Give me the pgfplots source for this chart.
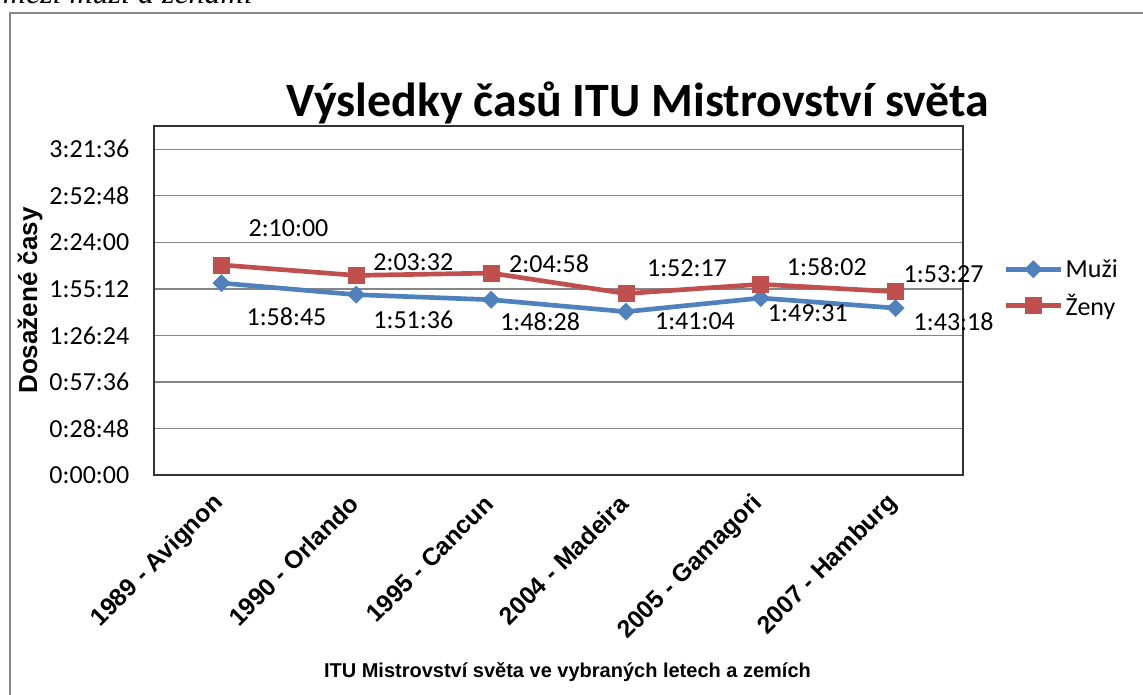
\documentclass[border=0pt]{standalone}
\usepackage{fontspec}
\setmainfont{Carlito}
\newfontfamily\arial{Liberation Sans}
\newfontfamily\timesf{Liberation Serif}
\usepackage{pgfplots}
\usepackage{pgfplotstable}
\pgfplotsset{compat=1.18}
\definecolor{muzi}{HTML}{4F81BD}
\definecolor{zeny}{HTML}{C0504D}
\definecolor{gridc}{HTML}{868686}
\definecolor{framec}{HTML}{8A8A8A}

% x, time in seconds, label shift dx, dy (pt), label text
\pgfplotstableread[col sep=comma]{
x,y,dx,dy,lab
0,7125,48.8,-25.5,1:58:45
1,6696,42.8,-18.8,1:51:36
2,6508,36.8,-16.5,1:48:28
3,6064,51.8,-6.8,1:41:04
4,6571,35.3,-11.3,1:49:31
5,6198,43.5,-10.5,1:43:18
}\muzidata
\pgfplotstableread[col sep=comma]{
x,y,dx,dy,lab
0,7800,50.3,27.8,2:10:00
1,7412,42.8,9.8,2:03:32
2,7498,43.5,6.8,2:04:58
3,6737,45.8,18.8,1:52:17
4,7082,49.5,12.8,1:58:02
5,6807,36.0,12.8,1:53:27
}\zenydata

\begin{document}
\begin{tikzpicture}[x=0.75pt,y=0.75pt]
\path[use as bounding box] (0,0) rectangle (1143,695);
\begin{scope}
\clip (0,0) rectangle (1143,695);
\node[anchor=base east, inner sep=0pt, font=\timesf\itshape\fontsize{24}{28}\selectfont] at (253,691) {mezi muži a ženami};
\draw[framec, line width=1.5pt] (10,-20) -- (10,682) -- (1160,682);
\end{scope}
\begin{axis}[
  at={(115.5pt,165pt)}, anchor=south west,
  scale only axis,
  width=606.75pt, height=261.75pt,
  xmin=-0.5, xmax=5.5,
  ymin=0, ymax=12960,
  scaled y ticks=false,
  xtick={0,1,2,3,4,5},
  xticklabels={1989 - Avignon,1990 - Orlando,1995 - Cancun,2004 - Madeira,2005 - Gamagori,2007 - Hamburg},
  ytick={0,1728,3456,5184,6912,8640,10368,12096},
  yticklabels={\mbox{0:00:00},\mbox{0:28:48},\mbox{0:57:36},\mbox{1:26:24},\mbox{1:55:12},\mbox{2:24:00},\mbox{2:52:48},\mbox{3:21:36}},
  major tick length=0pt,
  ymajorgrids,
  grid style={gridc, line width=1pt},
  axis line style={black!80, line width=1.1pt},
  xticklabel style={font=\arial\bfseries\fontsize{18.5}{21}\selectfont, rotate=45, anchor=east, inner sep=1pt, yshift=-12pt, xshift=-13pt},
  yticklabel style={font=\fontsize{19.5}{22}\selectfont, anchor=east, xshift=-15pt},
  xlabel={ITU Mistrovství světa ve vybraných letech a zemích},
  xlabel style={font=\arial\bfseries\fontsize{15}{18}\selectfont, at={(axis description cs:0.5,0)}, anchor=center, yshift=-148pt, xshift=6.75pt},
  ylabel={Dosažené časy},
  ylabel style={font=\arial\bfseries\fontsize{19.5}{22}\selectfont, at={(axis description cs:0,0.5)}, anchor=center, yshift=93pt},
  legend style={at={(1.05,0.535)}, anchor=west, draw=none, fill=none,
    font=\fontsize{19.5}{22}\selectfont, row sep=7pt, inner sep=0pt},
  legend cell align=left,
  legend image code/.code={\draw[mark repeat=2,mark phase=2,#1] plot coordinates {(0pt,0pt) (20.5pt,0pt) (41pt,0pt)};},
  clip=false,
]
\addplot[muzi, line width=3.5pt, mark=square*, mark size=4.5pt, mark options={rotate=45, line width=0.5pt, fill=muzi}] table[x=x,y=y] {\muzidata};
\addlegendentry{Muži}
\addplot[zeny, line width=3.5pt, mark=square*, mark size=6pt, mark options={line width=0.5pt, fill=zeny}] table[x=x,y=y] {\zenydata};
\addlegendentry{Ženy}
% data labels
\addplot[draw=none, mark=none, forget plot,
  visualization depends on={\thisrow{dx} \as \ldx},
  visualization depends on={\thisrow{dy} \as \ldy},
  nodes near coords, point meta=explicit symbolic,
  nodes near coords style={font=\fontsize{19.5}{22}\selectfont, black, anchor=center, xshift=\ldx pt, yshift=\ldy pt, inner sep=0pt}]
  table[x=x,y=y,meta=lab] {\muzidata};
\addplot[draw=none, mark=none, forget plot,
  visualization depends on={\thisrow{dx} \as \ldx},
  visualization depends on={\thisrow{dy} \as \ldy},
  nodes near coords, point meta=explicit symbolic,
  nodes near coords style={font=\fontsize{19.5}{22}\selectfont, black, anchor=center, xshift=\ldx pt, yshift=\ldy pt, inner sep=0pt}]
  table[x=x,y=y,meta=lab] {\zenydata};
\end{axis}
\node[anchor=base, inner sep=0pt, font=\bfseries\fontsize{35.9}{42}\selectfont] at (638,578) {Výsledky časů ITU Mistrovství světa};
\end{tikzpicture}
\end{document}
